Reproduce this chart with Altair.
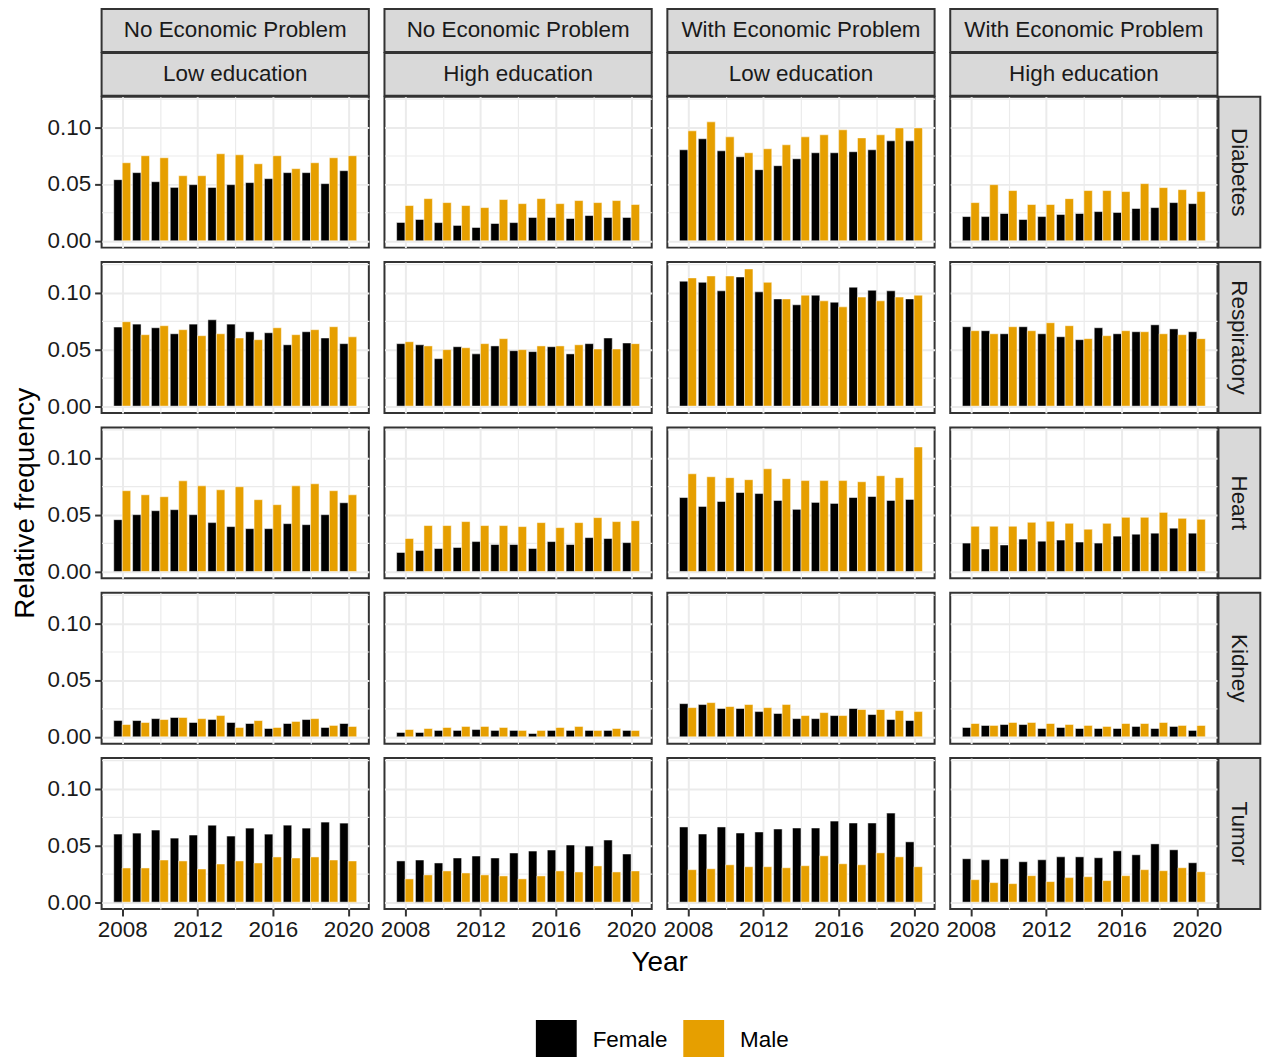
import altair as alt
import pandas as pd

# ---------------------------------------------------------------------------
# Categories
# ---------------------------------------------------------------------------
YEARS = list(range(2008, 2021))
ECONOMIC = ["No Economic Problem", "No Economic Problem",
            "With Economic Problem", "With Economic Problem"]
EDUCATION = ["Low education", "High education", "Low education", "High education"]
DISEASES = ["Diabetes", "Respiratory", "Heart", "Kidney", "Tumor"]
SEXES = ["Female", "Male"]
SEX_COLORS = ["#000000", "#E69F00"]

# ---------------------------------------------------------------------------
# Relative frequencies, one list of 13 years per panel column
# (column order: NoEcon/Low, NoEcon/High, WithEcon/Low, WithEcon/High)
# ---------------------------------------------------------------------------
DIABETES_FEMALE = [
    [0.0538, 0.0600, 0.0520, 0.0470, 0.0494, 0.0470, 0.0494, 0.0512, 0.0547, 0.0600, 0.0600, 0.0503, 0.0617],
    [0.0161, 0.0187, 0.0160, 0.0135, 0.0117, 0.0152, 0.0160, 0.0205, 0.0205, 0.0196, 0.0222, 0.0205, 0.0205],
    [0.0801, 0.0898, 0.0792, 0.0740, 0.0626, 0.0661, 0.0722, 0.0775, 0.0775, 0.0784, 0.0801, 0.0880, 0.0880],
    [0.0213, 0.0213, 0.0240, 0.0187, 0.0213, 0.0231, 0.0240, 0.0257, 0.0249, 0.0284, 0.0292, 0.0336, 0.0327],
]
DIABETES_MALE = [
    [0.0687, 0.0749, 0.0731, 0.0573, 0.0573, 0.0766, 0.0757, 0.0678, 0.0749, 0.0635, 0.0687, 0.0731, 0.0749],
    [0.0310, 0.0371, 0.0336, 0.0310, 0.0292, 0.0363, 0.0327, 0.0371, 0.0327, 0.0354, 0.0336, 0.0354, 0.0319],
    [0.0968, 0.1047, 0.0915, 0.0775, 0.0810, 0.0845, 0.0915, 0.0933, 0.0977, 0.0906, 0.0933, 0.0994, 0.0994],
    [0.0336, 0.0494, 0.0442, 0.0319, 0.0319, 0.0371, 0.0442, 0.0442, 0.0433, 0.0503, 0.0468, 0.0450, 0.0433],
]
RESPIRATORY_FEMALE = [
    [0.0696, 0.0722, 0.0690, 0.0637, 0.0722, 0.0760, 0.0722, 0.0655, 0.0646, 0.0540, 0.0655, 0.0600, 0.0550],
    [0.0550, 0.0540, 0.0418, 0.0523, 0.0460, 0.0530, 0.0488, 0.0480, 0.0523, 0.0460, 0.0550, 0.0600, 0.0556],
    [0.1100, 0.1090, 0.1015, 0.1137, 0.1006, 0.0944, 0.0892, 0.0977, 0.0915, 0.1047, 0.1020, 0.1015, 0.0944],
    [0.0699, 0.0664, 0.0637, 0.0699, 0.0637, 0.0611, 0.0585, 0.0690, 0.0637, 0.0655, 0.0716, 0.0680, 0.0655],
]
RESPIRATORY_MALE = [
    [0.0743, 0.0629, 0.0708, 0.0673, 0.0620, 0.0637, 0.0600, 0.0585, 0.0690, 0.0629, 0.0673, 0.0699, 0.0610],
    [0.0567, 0.0530, 0.0497, 0.0514, 0.0550, 0.0594, 0.0497, 0.0530, 0.0530, 0.0540, 0.0503, 0.0503, 0.0550],
    [0.1129, 0.1146, 0.1146, 0.1208, 0.1090, 0.0944, 0.0977, 0.0927, 0.0874, 0.0960, 0.0927, 0.0960, 0.0977],
    [0.0664, 0.0637, 0.0699, 0.0664, 0.0734, 0.0708, 0.0594, 0.0620, 0.0664, 0.0655, 0.0637, 0.0629, 0.0594],
]
HEART_FEMALE = [
    [0.0456, 0.0500, 0.0535, 0.0544, 0.0500, 0.0430, 0.0395, 0.0377, 0.0377, 0.0421, 0.0412, 0.0500, 0.0605],
    [0.0167, 0.0184, 0.0202, 0.0211, 0.0263, 0.0237, 0.0237, 0.0202, 0.0263, 0.0237, 0.0298, 0.0290, 0.0254],
    [0.0651, 0.0573, 0.0616, 0.0695, 0.0686, 0.0625, 0.0547, 0.0608, 0.0599, 0.0651, 0.0660, 0.0625, 0.0634],
    [0.0250, 0.0198, 0.0233, 0.0285, 0.0267, 0.0276, 0.0259, 0.0250, 0.0311, 0.0328, 0.0337, 0.0381, 0.0337],
]
HEART_MALE = [
    [0.0711, 0.0675, 0.0658, 0.0798, 0.0754, 0.0719, 0.0746, 0.0632, 0.0588, 0.0754, 0.0772, 0.0711, 0.0675],
    [0.0290, 0.0404, 0.0404, 0.0439, 0.0404, 0.0404, 0.0395, 0.0430, 0.0386, 0.0430, 0.0474, 0.0439, 0.0447],
    [0.0860, 0.0834, 0.0826, 0.0808, 0.0904, 0.0817, 0.0800, 0.0800, 0.0800, 0.0790, 0.0843, 0.0826, 0.1096],
    [0.0398, 0.0398, 0.0398, 0.0433, 0.0442, 0.0424, 0.0372, 0.0424, 0.0477, 0.0477, 0.0520, 0.0468, 0.0459],
]
KIDNEY_FEMALE = [
    [0.0143, 0.0143, 0.0160, 0.0170, 0.0126, 0.0152, 0.0126, 0.0117, 0.0073, 0.0117, 0.0152, 0.0082, 0.0117],
    [0.0038, 0.0038, 0.0056, 0.0056, 0.0064, 0.0056, 0.0056, 0.0029, 0.0056, 0.0056, 0.0056, 0.0056, 0.0056],
    [0.0292, 0.0284, 0.0249, 0.0249, 0.0222, 0.0205, 0.0160, 0.0160, 0.0187, 0.0249, 0.0196, 0.0152, 0.0143],
    [0.0082, 0.0100, 0.0108, 0.0108, 0.0073, 0.0082, 0.0073, 0.0073, 0.0073, 0.0091, 0.0073, 0.0091, 0.0056],
]
KIDNEY_MALE = [
    [0.0108, 0.0126, 0.0152, 0.0170, 0.0160, 0.0187, 0.0082, 0.0143, 0.0082, 0.0135, 0.0160, 0.0100, 0.0091],
    [0.0064, 0.0073, 0.0082, 0.0091, 0.0091, 0.0082, 0.0056, 0.0056, 0.0082, 0.0091, 0.0056, 0.0073, 0.0056],
    [0.0257, 0.0301, 0.0266, 0.0284, 0.0257, 0.0284, 0.0187, 0.0213, 0.0187, 0.0240, 0.0240, 0.0231, 0.0222],
    [0.0117, 0.0100, 0.0126, 0.0126, 0.0117, 0.0108, 0.0100, 0.0091, 0.0117, 0.0117, 0.0126, 0.0100, 0.0100],
]
TUMOR_FEMALE = [
    [0.0599, 0.0608, 0.0635, 0.0564, 0.0591, 0.0678, 0.0582, 0.0652, 0.0599, 0.0678, 0.0652, 0.0705, 0.0696],
    [0.0363, 0.0371, 0.0345, 0.0389, 0.0406, 0.0389, 0.0433, 0.0450, 0.0459, 0.0503, 0.0494, 0.0547, 0.0424],
    [0.0662, 0.0600, 0.0662, 0.0609, 0.0618, 0.0644, 0.0653, 0.0653, 0.0714, 0.0697, 0.0697, 0.0784, 0.0531],
    [0.0382, 0.0373, 0.0382, 0.0356, 0.0373, 0.0399, 0.0399, 0.0391, 0.0452, 0.0417, 0.0513, 0.0461, 0.0347],
]
TUMOR_MALE = [
    [0.0301, 0.0301, 0.0371, 0.0363, 0.0292, 0.0336, 0.0363, 0.0345, 0.0398, 0.0389, 0.0398, 0.0371, 0.0363],
    [0.0205, 0.0240, 0.0275, 0.0257, 0.0240, 0.0231, 0.0205, 0.0231, 0.0275, 0.0266, 0.0319, 0.0266, 0.0275],
    [0.0286, 0.0294, 0.0329, 0.0312, 0.0312, 0.0303, 0.0321, 0.0408, 0.0338, 0.0329, 0.0434, 0.0399, 0.0312],
    [0.0198, 0.0172, 0.0163, 0.0233, 0.0181, 0.0216, 0.0224, 0.0190, 0.0233, 0.0286, 0.0277, 0.0303, 0.0268],
]

SERIES = {
    "Diabetes": (DIABETES_FEMALE, DIABETES_MALE),
    "Respiratory": (RESPIRATORY_FEMALE, RESPIRATORY_MALE),
    "Heart": (HEART_FEMALE, HEART_MALE),
    "Kidney": (KIDNEY_FEMALE, KIDNEY_MALE),
    "Tumor": (TUMOR_FEMALE, TUMOR_MALE),
}

rows = []
for disease, by_sex in SERIES.items():
    for sex, panels in zip(SEXES, by_sex):
        for col, values in enumerate(panels):
            for year, v in zip(YEARS, values):
                rows.append({"disease": disease, "col": col, "sex": sex,
                             "year": year, "value": v})
df = pd.DataFrame(rows)

# ---------------------------------------------------------------------------
# Styling
# ---------------------------------------------------------------------------
FONT = "Liberation Sans"
PANEL_W = 268.3
PANEL_H = 151.5
STRIP_H = 43
STRIP_W = 42
GAP_X = 15
GAP_Y = 14
BAR_W = 0.45                      # dodged bar width in years
GRID = "#EBEBEB"
INK = "#333333"
TEXT = "#1A1A1A"
STRIP_FILL = "#D9D9D9"

# continuous scale limits with 5% expansion around the data
x_lo, x_hi = min(YEARS) - BAR_W, max(YEARS) + BAR_W
x_pad = 0.05 * (x_hi - x_lo)
X_DOMAIN = [x_lo - x_pad, x_hi + x_pad]
y_max = float(df["value"].max())
Y_DOMAIN = [-0.05 * y_max, 1.05 * y_max]

x_scale = alt.Scale(domain=X_DOMAIN, nice=False, zero=False)
y_scale = alt.Scale(domain=Y_DOMAIN, nice=False, zero=False)

legend = alt.Legend(
    title=None, orient="none", legendX=436, legendY=927,
    direction="horizontal", symbolType="square", symbolSize=41 * 41,
    symbolStrokeWidth=0, labelFontSize=22.5, labelFont=FONT, labelColor="#000000",
    labelOffset=16, columnPadding=15,
)


def strip_layers(label, x0, x1, y0, y1, angle=0):
    """Grey facet label box drawn next to a panel (pixel placement)."""
    src = alt.Chart(pd.DataFrame({"label": [label]}))
    box = src.mark_rect(fill=STRIP_FILL, stroke=INK, strokeWidth=2).encode(
        x=alt.value(x0), x2=alt.value(x1), y=alt.value(y0), y2=alt.value(y1))
    txt = src.mark_text(font=FONT, fontSize=22.5, color=TEXT, angle=angle,
                        align="center", baseline="middle").encode(
        text="label:N", x=alt.value((x0 + x1) / 2), y=alt.value((y0 + y1) / 2))
    return [box, txt]


def panel(disease, col, row_idx):
    left = col == 0
    bottom = row_idx == len(DISEASES) - 1

    base = alt.Chart(df).transform_filter(
        (alt.datum.disease == disease) & (alt.datum.col == col)
    ).transform_calculate(
        x0=f"datum.year - (datum.sex == 'Female' ? {BAR_W} : 0)",
        x1=f"datum.year + (datum.sex == 'Female' ? 0 : {BAR_W})",
    )

    # minor grid lines (invisible bars carry the extra axes)
    minor = base.mark_bar(opacity=0).encode(
        x=alt.X("x0:Q", scale=x_scale, title=None,
                axis=alt.Axis(orient="top", values=[2010, 2014, 2018], labels=False,
                              ticks=False, domain=False, grid=True,
                              gridColor=GRID, gridWidth=1.2)),
        x2="x1:Q",
        y=alt.Y("value:Q", scale=y_scale, title=None,
                axis=alt.Axis(orient="right", values=[0.025, 0.075, 0.125],
                              labels=False, ticks=False, domain=False, grid=True,
                              gridColor=GRID, gridWidth=1.2)),
        y2=alt.datum(0),
    )

    x_axis = dict(values=[2008, 2012, 2016, 2020], format="d", labels=bottom,
                  ticks=bottom, domain=False, grid=True, gridColor=GRID, gridWidth=2,
                  tickSize=7, tickColor=INK, tickWidth=2, labelFontSize=22.5,
                  labelColor=TEXT, labelPadding=3, labelFlush=False,
                  labelOverlap=False)
    if bottom and col == 1:
        x_axis.update(title="Year", titleFontSize=28, titleFontWeight="normal",
                      titleColor="#000000", titleX=PANEL_W + GAP_X / 2,
                      titleY=62, titleAlign="center", titleBaseline="alphabetic")
    else:
        x_axis.update(title=None)

    y_axis = dict(values=[0, 0.05, 0.10], format=".2f", labels=left, ticks=left,
                  domain=False, grid=True, gridColor=GRID, gridWidth=2, tickSize=7,
                  tickColor=INK, tickWidth=2, labelFontSize=22.5, labelColor=TEXT,
                  labelPadding=4)
    if left and row_idx == 2:
        y_axis.update(title="Relative frequency", titleFontSize=28,
                      titleFontWeight="normal", titleColor="#000000",
                      titlePadding=8)
    else:
        y_axis.update(title=None)

    bars = base.mark_bar(stroke="white", strokeWidth=0.5).encode(
        x=alt.X("x0:Q", scale=x_scale, axis=alt.Axis(**x_axis)),
        x2="x1:Q",
        y=alt.Y("value:Q", scale=y_scale, axis=alt.Axis(**y_axis)),
        y2=alt.datum(0),
        color=alt.Color("sex:N", scale=alt.Scale(domain=SEXES, range=SEX_COLORS),
                        legend=legend),
    )

    layers = [minor, bars]
    if row_idx == 0:
        # two stacked column strips above the first row
        layers += strip_layers(ECONOMIC[col], 0, PANEL_W,
                               -(2 * STRIP_H + 2), -(STRIP_H + 2))
        layers += strip_layers(EDUCATION[col], 0, PANEL_W, -(STRIP_H + 1), -1)
    if col == 3:
        # row strip on the right of the last column
        layers += strip_layers(disease, PANEL_W + 1, PANEL_W + 1 + STRIP_W,
                               0, PANEL_H, angle=90)

    return alt.layer(*layers).resolve_axis(
        x="independent", y="independent"
    ).properties(
        width=PANEL_W, height=PANEL_H,
        view=alt.ViewBackground(fill="white", stroke=INK, strokeWidth=2),
    )


cells = [panel(d, c, r) for r, d in enumerate(DISEASES) for c in range(4)]

chart = alt.concat(
    *cells, columns=4, spacing={"row": GAP_Y, "column": GAP_X}, bounds="flush"
).properties(
    padding={"left": 10, "top": 5, "right": 0, "bottom": 0},
    background="white",
).configure(font=FONT).configure_axis(
    labelFont=FONT, titleFont=FONT
).configure_legend(labelFont=FONT)

chart.save("out.html", embed_options={"renderer": "svg", "actions": False})
